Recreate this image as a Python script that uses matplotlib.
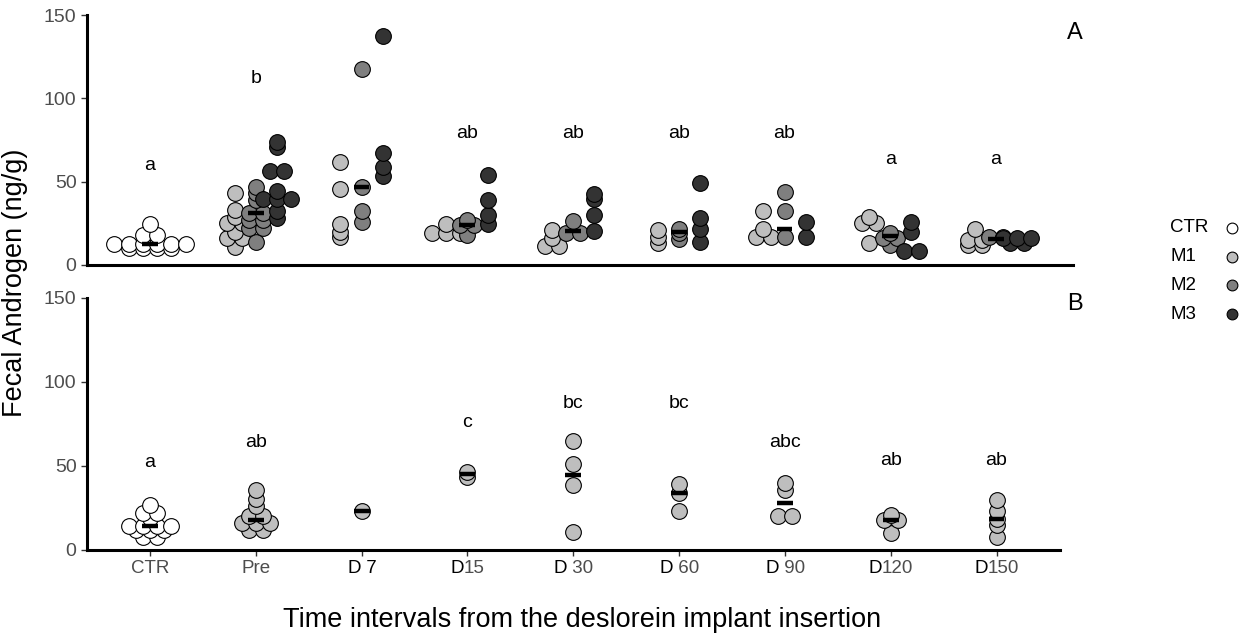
import numpy as np
import matplotlib.pyplot as plt
from matplotlib.offsetbox import TextArea, HPacker, AnnotationBbox

plt.rcParams['font.family'] = ['Liberation Sans', 'DejaVu Sans']

groups = ['CTR', 'Pre', 'D 7', 'D15', 'D 30', 'D 60', 'D 90', 'D120', 'D150']

# panel A - all animals (ng/g)
ctr_a = [10, 10, 10, 10, 12.5, 12.5, 12.5, 12.5, 12.5, 12.5, 18, 18, 24.5]
m1_a = [[], [11, 16, 16, 20, 25, 25, 29, 33, 43],
        [16.5, 20, 24.5, 45.5, 61.5], [19, 19, 19, 24.5], [11.5, 11.5, 16, 21],
        [13, 17, 21], [16.5, 16.5, 21.5, 32.5], [13, 25, 25, 29], [12, 12, 15, 15, 21.5]]
m2_a = [[], [14, 22, 22, 27, 27, 31, 31, 39, 43, 47],
        [25.5, 32.5, 47, 117.5], [18, 24, 24, 27], [19, 19, 26.5],
        [15.5, 19, 21.5], [16.5, 32.5, 44], [12, 16, 16, 19], [17, 17]]
m3_a = [[], [28, 32.5, 39.5, 39.5, 39.5, 44.5, 56.5, 56.5, 71, 74],
        [53.5, 59, 67, 137.5], [24.5, 30, 39, 54], [20.5, 30, 39.5, 42.5],
        [13.5, 21.5, 28, 49], [17, 25.5], [8.5, 8.5, 20, 26], [13, 13, 16, 16, 16]]
letters_a = ['a', 'b', '', 'ab', 'ab', 'ab', 'ab', 'a', 'a']
lab_y_a = [60, 112, 0, 79, 79, 79, 79, 63, 63]

# panel B - M1 only
ctr_b = [8, 8, 12, 12, 12, 14.5, 14.5, 14.5, 14.5, 19, 22, 22, 27]
m1_b = [[], [12, 12, 16, 16, 16, 20, 20, 26, 30.5, 35.5], [23.5], [43.5, 46.5],
        [10.5, 38.5, 51, 65], [23, 34, 39], [20, 20, 36, 40], [10, 18, 18, 21],
        [8, 15, 18.5, 23, 30]]
letters_b = ['a', 'ab', '', 'c', 'bc', 'bc', 'abc', 'ab', 'ab']
lab_y_b = [52, 64, 0, 76, 87, 87, 64, 53, 53]

cols = {'CTR': 'white', 'M1': '#BEBEBE', 'M2': '#7F7F7F', 'M3': '#333333'}
grey = '#4D4D4D'


def stack(vals, center, bw=1.0, step=0.135):
    # dot-density style binning, dots in one bin sit side by side
    v = np.sort(np.asarray(vals, float))
    xs, ys = [], []
    i = 0
    while i < len(v):
        j = i
        while j < len(v) and v[j] < v[i] + bw:
            j += 1
        n = j - i
        for k in range(n):
            xs.append(center + (k - (n - 1) / 2) * step)
            ys.append((v[i] + v[j - 1]) / 2)
        i = j
    return xs, ys


def dots(ax, vals, center, color):
    if len(vals) == 0:
        return
    xs, ys = stack(vals, center)
    ax.scatter(xs, ys, s=128, facecolor=color, edgecolor='black',
               linewidth=0.8, zorder=3, clip_on=False)


def style(ax):
    for s in ['top', 'right']:
        ax.spines[s].set_visible(False)
    for s in ['left', 'bottom']:
        ax.spines[s].set_linewidth(2.2)
    ax.set_ylim(0, 150)
    ax.set_yticks([0, 50, 100, 150])
    ax.tick_params(axis='y', colors='#333333', labelcolor=grey, labelsize=14,
                   length=4, width=1)


fig = plt.figure(figsize=(12.47, 6.35), dpi=100)
axA = fig.add_axes([87/1247, 1-265/635, (1073-87)/1247, 250/635])
axB = fig.add_axes([87/1247, 1-550/635, (1060-87)/1247, 252/635])

x = np.arange(1, len(groups) + 1)

# panel A
dots(axA, ctr_a, x[0], cols['CTR'])
for i in range(1, len(groups)):
    dots(axA, m1_a[i], x[i] - 0.2, cols['M1'])
    dots(axA, m2_a[i], x[i], cols['M2'])
    dots(axA, m3_a[i], x[i] + 0.2, cols['M3'])
for i in range(len(groups)):
    allv = ctr_a if i == 0 else m1_a[i] + m2_a[i] + m3_a[i]
    axA.hlines(np.median(allv), x[i] - 0.075, x[i] + 0.075, color='black',
               lw=3.2, zorder=4)
    if letters_a[i]:
        axA.text(x[i], lab_y_a[i], letters_a[i], ha='center', va='center',
                 fontsize=14)
axA.set_xlim(0.404, 9.728)
style(axA)
axA.tick_params(axis='x', bottom=False, labelbottom=False)

# panel B
dots(axB, ctr_b, x[0], cols['CTR'])
for i in range(1, len(groups)):
    dots(axB, m1_b[i], x[i], cols['M1'])
for i in range(len(groups)):
    allv = ctr_b if i == 0 else m1_b[i]
    axB.hlines(np.median(allv), x[i] - 0.075, x[i] + 0.075, color='black',
               lw=3.2, zorder=4)
    if letters_b[i]:
        axB.text(x[i], lab_y_b[i], letters_b[i], ha='center', va='center',
                 fontsize=14)
axB.set_xlim(0.404, 9.6)
style(axB)
axB.set_xticks(x)
axB.set_xticklabels([])
axB.tick_params(axis='x', colors='#333333', length=4, width=1)

# tick labels: the "D" is black, the number grey (7 is black too)
for i, g in enumerate(groups):
    if g.startswith('D'):
        ncol = 'black' if g == 'D 7' else grey
        parts = [TextArea('D', textprops=dict(color='black', fontsize=13.5)),
                 TextArea(g[1:], textprops=dict(color=ncol, fontsize=13.5))]
    else:
        parts = [TextArea(g, textprops=dict(color=grey, fontsize=13.5))]
    box = HPacker(children=parts, sep=0, pad=0, align='baseline')
    axB.add_artist(AnnotationBbox(box, (x[i], 0), xycoords=axB.get_xaxis_transform(),
                                  xybox=(0, -7.5), boxcoords='offset points',
                                  box_alignment=(0.5, 1), frameon=False, pad=0,
                                  annotation_clip=False))

fig.text(1075/1247, 1-33/635, 'A', fontsize=17, ha='center', va='center')
fig.text(1075/1247, 1-304/635, 'B', fontsize=17, ha='center', va='center')
fig.text(15/1247, 1-283/635, 'Fecal Androgen (ng/g)', rotation=90,
         fontsize=19.5, ha='center', va='center')
fig.text(582/1247, 1-620/635, 'Time intervals from the deslorein implant insertion',
         fontsize=19.5, ha='center', va='center')

# legend, labels left aligned and keys on the right
lax = fig.add_axes([1170/1247, 1-328.4/635, 70/1247, 114.8/635])
lax.set_xlim(0, 1)
lax.set_ylim(-3.5, 0.5)
lax.axis('off')
for i, k in enumerate(cols):
    lax.scatter(0.886, -i, s=60, facecolor=cols[k], edgecolor='black',
                linewidth=0.8, clip_on=False)
    lax.text(0, -i, k, fontsize=13.5, ha='left', va='center')

fig.savefig('out.png', dpi=100)
